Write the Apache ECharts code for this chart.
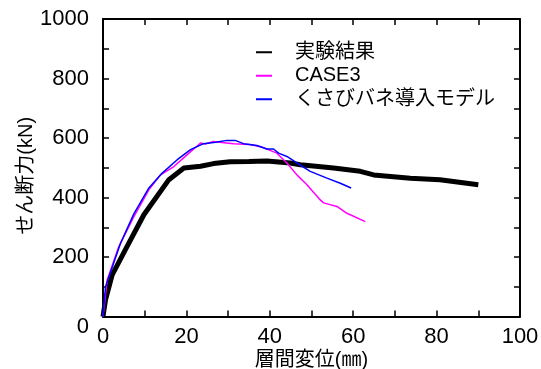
<!DOCTYPE html>
<html>
<head>
<meta charset="utf-8">
<script src="https://cdn.jsdelivr.net/npm/echarts@6/dist/echarts.min.js"></script>
<style>
  html, body { margin: 0; padding: 0; background: #fff; }
  #chart { width: 541px; height: 369px; }
</style>
</head>
<body>
<div id="chart"></div>
<script>
// Story drift (mm) vs. shear force (kN)
const seriesNames = ['実験結果', 'CASE3', 'くさびバネ導入モデル'];

const expDrift = [0, 0.6, 2.2, 5.5, 9.8, 15.8, 19.4, 23.4, 26.5, 30.5, 35, 39.3, 44.9, 47.3, 55.3, 61.7, 64.9, 73.7, 80.8, 90];
const expShear = [0, 56, 140, 228, 342, 460, 499, 505, 514, 520, 521, 523, 516, 510, 499, 488, 476, 465, 460, 443];

const case3Drift = [0, 1.0, 3.8, 7.4, 11, 13.8, 17, 20.2, 23.4, 24.5, 26.5, 28, 31.3, 35.3, 38, 41.7, 44.1, 46.5, 48.9, 52.1, 52.9, 56.1, 58.5, 62.9];
const case3Shear = [0, 123, 235, 336, 426, 476, 504, 544, 583, 580, 588, 586, 581, 578, 570, 549, 516, 476, 443, 392, 382, 370, 347, 319];

const wedgeDrift = [0, 0.6, 4.2, 7.4, 11, 14.2, 17.8, 21, 24.1, 27, 29.7, 31.7, 33.7, 36.9, 39.3, 40.9, 42.1, 44.1, 46.5, 49.7, 53.7, 56.9, 59.5];
const wedgeShear = [0, 100, 246, 345, 432, 482, 527, 561, 581, 586, 592, 592, 581, 575, 563, 563, 549, 538, 516, 488, 465, 448, 432];

const xTicks = { min: 0, max: 100, interval: 20 };
const yTicks = { min: 0, max: 1000, interval: 200 };

const pairs = (xs, ys) => xs.map((x, i) => [x, ys[i]]);

const numFont = "'Liberation Sans', sans-serif";
const jpFont = "'Liberation Sans', 'Noto Sans CJK JP', sans-serif";

const frameAxis = {
  axisLine: { show: true, onZero: false, lineStyle: { color: '#000', width: 2 } },
  axisTick: { show: true, inside: true, length: 6, lineStyle: { color: '#000', width: 1.5 } },
  minorTick: { show: true, splitNumber: 2, length: 6, lineStyle: { color: '#000', width: 1.5 } },
  splitLine: { show: false }
};

const chart = echarts.init(document.getElementById('chart'), null, { renderer: 'canvas' });
chart.setOption({
  animation: false,
  backgroundColor: '#fff',
  grid: { left: 103, right: 21, top: 19, bottom: 52.5, containLabel: false, outerBoundsMode: 'none' },
  legend: {
    orient: 'vertical',
    left: 251,
    top: 37,
    itemWidth: 16,
    itemHeight: 2,
    itemGap: 3,
    icon: 'rect',
    data: seriesNames,
    textStyle: { fontFamily: jpFont, fontSize: 20, color: '#000', padding: [0, 0, 0, 18], lineHeight: 20.5 }
  },
  xAxis: [
    Object.assign({
      type: 'value', position: 'bottom',
      min: xTicks.min, max: xTicks.max, interval: xTicks.interval,
      name: '層間変位(㎜)', nameLocation: 'middle', nameGap: 34, nameMoveOverlap: false,
      nameTextStyle: { fontFamily: jpFont, fontSize: 20, color: '#000' },
      axisLabel: { margin: 9, fontFamily: numFont, fontSize: 22, color: '#000' }
    }, frameAxis),
    Object.assign({
      type: 'value', position: 'top',
      min: xTicks.min, max: xTicks.max, interval: xTicks.interval,
      axisLabel: { show: false }
    }, frameAxis)
  ],
  yAxis: [
    Object.assign({
      type: 'value', position: 'left',
      min: yTicks.min, max: yTicks.max, interval: yTicks.interval,
      name: 'せん断力(kN)', nameLocation: 'middle', nameGap: 67, nameRotate: 90, nameMoveOverlap: false,
      nameTextStyle: { fontFamily: jpFont, fontSize: 20, color: '#000', padding: [0, 16, 0, 0] },
      axisLabel: {
        margin: 14, fontFamily: numFont, fontSize: 22, color: '#000',
        formatter: v => (v === 0 ? '{z|0}' : String(v)),
        rich: { z: { fontFamily: numFont, fontSize: 22, color: '#000', padding: [20, 0, 0, 0] } }
      }
    }, frameAxis),
    Object.assign({
      type: 'value', position: 'right',
      min: yTicks.min, max: yTicks.max, interval: yTicks.interval,
      axisLabel: { show: false }
    }, frameAxis)
  ],
  series: [
    {
      name: seriesNames[0], type: 'line', data: pairs(expDrift, expShear),
      showSymbol: false, symbol: 'none', color: '#000',
      lineStyle: { color: '#000', width: 5 }, z: 2
    },
    {
      name: seriesNames[1], type: 'line', data: pairs(case3Drift, case3Shear),
      showSymbol: false, symbol: 'none', color: '#ff00ff',
      lineStyle: { color: '#ff00ff', width: 1.5 }, z: 3
    },
    {
      name: seriesNames[2], type: 'line', data: pairs(wedgeDrift, wedgeShear),
      showSymbol: false, symbol: 'none', color: '#0000ff',
      lineStyle: { color: '#0000ff', width: 1.5 }, z: 4
    }
  ]
});
</script>
</body>
</html>
